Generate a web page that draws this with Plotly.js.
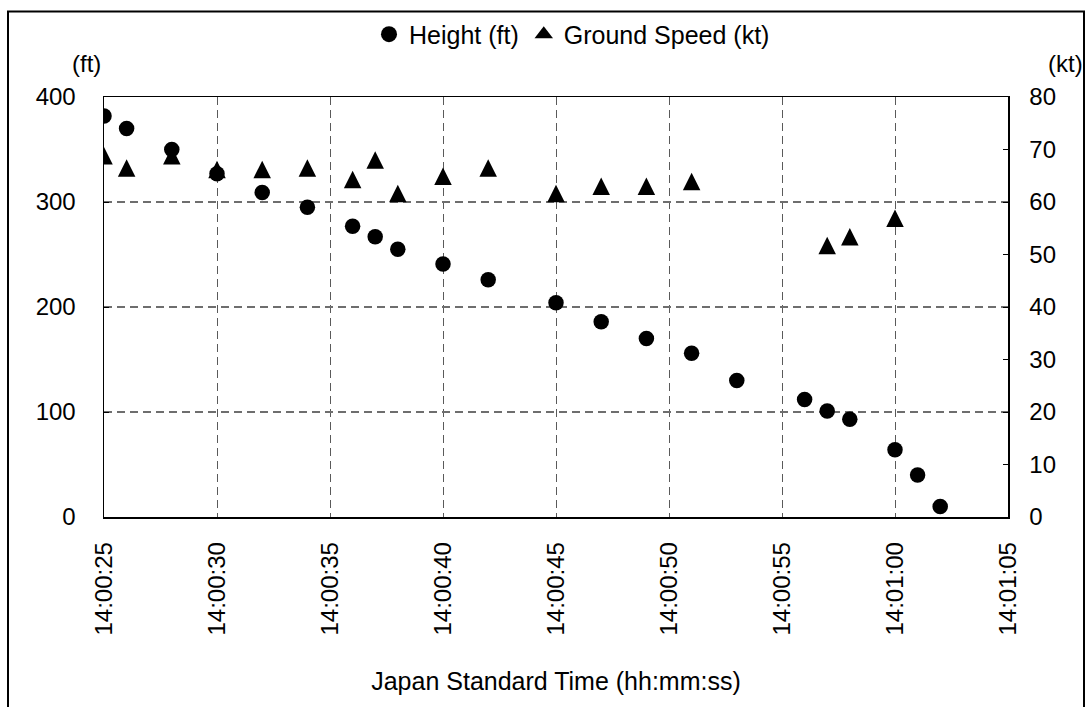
<!DOCTYPE html>
<html>
<head>
<meta charset="utf-8">
<script src="https://cdn.plot.ly/plotly-3.0.1.min.js"></script>
<style>html,body{margin:0;padding:0;background:#fff;}#chart{width:1088px;height:707px;}</style>
</head>
<body>
<div id="chart"></div>
<script>
// ---- data ----
var heightTimes = ["14:00:25","14:00:26","14:00:28","14:00:30","14:00:32","14:00:34","14:00:36","14:00:37","14:00:38","14:00:40","14:00:42","14:00:45","14:00:47","14:00:49","14:00:51","14:00:53","14:00:56","14:00:57","14:00:58","14:01:00","14:01:01","14:01:02"];
var heightFt = [382,370,350,327,309,295,277,267,255,241,226,204,186,170,156,130,112,101,93,64,40,10];

var speedTimes = ["14:00:25","14:00:26","14:00:28","14:00:30","14:00:32","14:00:34","14:00:36","14:00:37","14:00:38","14:00:40","14:00:42","14:00:45","14:00:47","14:00:49","14:00:51","14:00:57","14:00:58","14:01:00"];
var speedKt = [68.8,66.5,68.8,66.2,66.2,66.5,64.3,68.0,61.6,64.9,66.5,61.6,63.0,63.0,63.9,51.7,53.4,56.9];

var xRange = ["14:00:25","14:01:05"];
var heightTicks = [0,100,200,300,400];
var speedTicks = [0,10,20,30,40,50,60,70,80];

var seriesNames = ["Height (ft)","Ground Speed (kt)"];
var xTitle = "Japan Standard Time (hh:mm:ss)";
var leftUnit = "(ft)";
var rightUnit = "(kt)";

// ---- build ----
var day = "2024-01-01 ";
function toDate(t){ return day + t; }
var FONT = '"Liberation Sans", Arial, sans-serif';

var traces = [
  {
    type: 'scatter', mode: 'markers', name: seriesNames[0], legendgroup: 'h', showlegend: false,
    x: heightTimes.map(toDate), y: heightFt,
    marker: {symbol: 'circle', size: 15.5, color: '#000', line: {width: 0}},
    xaxis: 'x', yaxis: 'y'
  },
  {
    type: 'scatter', mode: 'markers', name: seriesNames[1], legendgroup: 's', showlegend: false,
    x: speedTimes.map(toDate), y: speedKt,
    marker: {symbol: 'arrow-down', angle: 180, standoff: 8.75, size: 17.5, color: '#000', line: {width: 0}},
    xaxis: 'x', yaxis: 'y2'
  },
  // legend entries (symbols only; the marks above carry the data)
  {
    type: 'scatter', mode: 'markers', name: seriesNames[0], legendgroup: 'h', showlegend: true,
    x: [null], y: [null],
    marker: {symbol: 'circle', size: 16, color: '#000', line: {width: 0}},
    xaxis: 'x', yaxis: 'y', hoverinfo: 'skip'
  },
  {
    type: 'scatter', mode: 'markers', name: seriesNames[1], legendgroup: 's', showlegend: true,
    x: [null], y: [null],
    marker: {symbol: 'triangle-up', size: 16, color: '#000', line: {width: 0}},
    xaxis: 'x', yaxis: 'y2', hoverinfo: 'skip'
  }
];

var L = 104, R = 1008, T = 94, B = 516.7;
var PW = R - L, PH = B - T;
function px(x){ return (x - L) / PW; }
function py(y){ return (B - y) / PH; }

var gridDash = '8px,5px';

var layout = {
  width: 1088, height: 707,
  margin: {l: L, r: 1088 - R, t: T, b: 707 - B, pad: 0},
  paper_bgcolor: '#fff', plot_bgcolor: '#fff',
  font: {family: FONT, size: 24, color: '#000'},
  showlegend: true,
  legend: {
    orientation: 'h', x: px(572), xanchor: 'center', y: py(31), yanchor: 'middle',
    font: {family: FONT, size: 25, color: '#000'},
    bgcolor: 'rgba(0,0,0,0)', itemwidth: 30, tracegroupgap: 0
  },
  xaxis: {
    type: 'date',
    range: xRange.map(toDate),
    dtick: 5000, tick0: toDate(xRange[0]),
    tickformat: '%H:%M:%S', tickangle: -90,
    tickfont: {family: FONT, size: 24, color: '#000'},
    ticks: '', ticklabelstandoff: 14,
    showgrid: true, gridcolor: '#5a5a5a', gridwidth: 1, griddash: gridDash,
    showline: true, linecolor: '#000', linewidth: 1.5, mirror: true,
    zeroline: false,
    title: {text: xTitle, font: {family: FONT, size: 25, color: '#000'}, standoff: 38},
    automargin: false, fixedrange: true
  },
  yaxis: {
    range: [0, 400], tickvals: heightTicks,
    tickfont: {family: FONT, size: 24, color: '#000'},
    ticks: 'inside', ticklen: 5, tickcolor: '#000',
    ticklabelstandoff: 22,
    showgrid: true, gridcolor: '#6e6e6e', gridwidth: 1.3, griddash: gridDash,
    showline: true, linecolor: '#000', linewidth: 1.5,
    zeroline: false, automargin: false, fixedrange: true
  },
  yaxis2: {
    overlaying: 'y', side: 'right',
    range: [0, 80], tickvals: speedTicks,
    tickfont: {family: FONT, size: 24, color: '#000'},
    ticks: 'inside', ticklen: 5, tickcolor: '#000',
    ticklabelstandoff: 15,
    showgrid: false,
    showline: true, linecolor: '#000', linewidth: 1.5,
    zeroline: false, automargin: false, fixedrange: true
  },
  annotations: [
    {xref: 'paper', yref: 'paper', x: px(86), y: py(60), text: leftUnit, showarrow: false,
     xanchor: 'center', yanchor: 'middle', font: {family: FONT, size: 24, color: '#000'}},
    {xref: 'paper', yref: 'paper', x: px(1065), y: py(60), text: rightUnit, showarrow: false,
     xanchor: 'center', yanchor: 'middle', font: {family: FONT, size: 24, color: '#000'}}
  ],
  shapes: [
    {type: 'rect', xref: 'paper', yref: 'paper', layer: 'above',
     x0: px(8), x1: px(1084), y0: py(8), y1: py(760),
     line: {color: '#000', width: 2}, fillcolor: 'rgba(0,0,0,0)'}
  ]
};

Plotly.newPlot('chart', traces, layout, {displayModeBar: false, staticPlot: true});
</script>
</body>
</html>
